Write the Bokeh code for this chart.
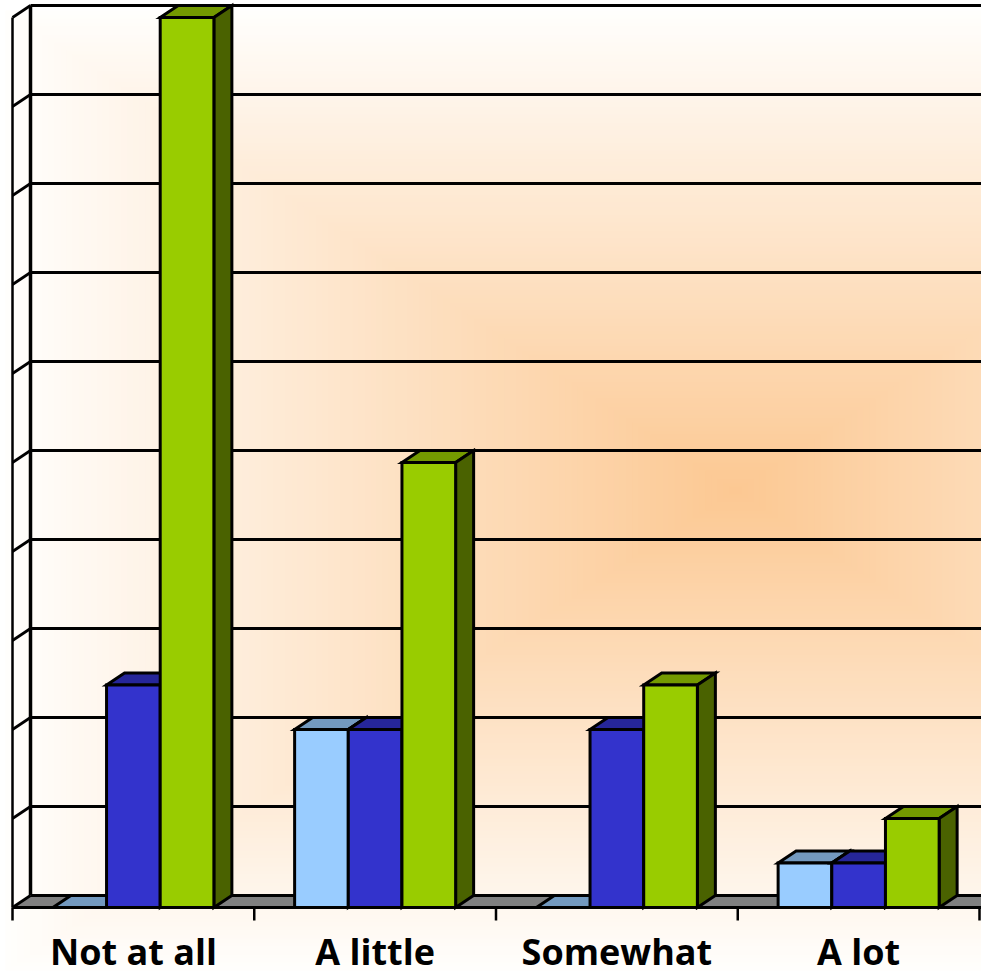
import numpy as np
from bokeh.plotting import figure
from bokeh.models import Range1d, ColumnDataSource
from bokeh.core.properties import value
from bokeh.embed import file_html
from bokeh.resources import INLINE

# ---------------- data ----------------
categories = ["Not at all", "A little", "Somewhat", "A lot"]
series_light_blue = [0, 2, 0, 0.5]
series_blue = [2.5, 2, 2, 0.5]
series_green = [10, 5, 2.5, 1]
y_grid_values = list(range(0, 11))

# ---------------- style ----------------
front_colors = ["#99CCFF", "#3333CC", "#99CC00"]
top_colors = ["#7399BF", "#262699", "#749A00"]
side_colors = ["#4D6680", "#1A1A66", "#4A6200"]

W_PX, H_PX = 981, 977
PX_X = 241.75          # pixels per category
PX_Y = 89.0            # pixels per value unit
X0_PX = 12             # pixel of x=0 from left of figure
Y0_PX = 70             # pixel of y=0 from bottom of figure
DX = 18 / PX_X         # depth offset (data units)
DY = 12 / PX_Y
BAR_W = 0.222
BAR_OFF = 0.5 - 1.5 * BAR_W

x_start = -X0_PX / PX_X
x_end = (W_PX - X0_PX) / PX_X
y_start = -Y0_PX / PX_Y
y_end = (H_PX - Y0_PX) / PX_Y

p = figure(width=W_PX, height=H_PX, output_backend="svg", toolbar_location=None,
           x_range=Range1d(x_start, x_end), y_range=Range1d(y_start, y_end),
           x_axis_location=None, y_axis_location=None, min_border=0,
           background_fill_color="#FFFFFF", border_fill_color="#FFFFFF")
p.outline_line_color = None
p.xgrid.visible = False
p.ygrid.visible = False

# ---------------- background: rectangular "from centre" gradient ----------------
cx = (735 - 12) / PX_X
cy = (907 - 490) / PX_Y
rx = 730 / PX_X
ry = 480 / PX_Y
peak = np.array([252, 200, 146])
white = np.array([255, 254, 252])
N = 120
gl, gr, gb, gt, gc = [], [], [], [], []
for k in range(N):
    t = 1 - k / N
    col = white + (peak - white) * (1 - t)
    gl.append(cx - t * rx); gr.append(cx + t * rx)
    gb.append(cy - t * ry); gt.append(cy + t * ry)
    gc.append("#%02x%02x%02x" % tuple(int(round(c)) for c in col))
p.quad(left=gl, right=gr, bottom=gb, top=gt, fill_color=gc, line_color=None)

XR = x_end + 1

# ---------------- floor ----------------
p.patch([0, XR, XR + DX, DX], [0, 0, DY, DY], fill_color="#808080", line_color=None)

# ---------------- walls / grid ----------------
p.segment(x0=[DX] * len(y_grid_values), y0=[v + DY for v in y_grid_values],
          x1=[XR] * len(y_grid_values), y1=[v + DY for v in y_grid_values],
          line_color="black", line_width=3.2)
p.segment(x0=[0] * len(y_grid_values), y0=y_grid_values,
          x1=[DX] * len(y_grid_values), y1=[v + DY for v in y_grid_values],
          line_color="black", line_width=2.8)
top_v = max(y_grid_values)
p.segment(x0=[0], y0=[0], x1=[0], y1=[top_v], line_color="black", line_width=2.5)
p.segment(x0=[DX], y0=[DY], x1=[DX], y1=[top_v + DY], line_color="black", line_width=3.5)
p.segment(x0=[0], y0=[0], x1=[XR], y1=[0], line_color="black", line_width=3.2)

# ---------------- bars (3-D) ----------------
series = [series_light_blue, series_blue, series_green]
xs, ys, fills = [], [], []
for c in range(len(categories)):
    for j, vals in enumerate(series):
        h = vals[c]
        x0 = c + BAR_OFF + j * BAR_W
        x1 = x0 + BAR_W
        # top face
        xs.append([x0, x1, x1 + DX, x0 + DX]); ys.append([h, h, h + DY, h + DY]); fills.append(top_colors[j])
        if h > 0:
            # side face
            xs.append([x1, x1 + DX, x1 + DX, x1]); ys.append([0, DY, h + DY, h]); fills.append(side_colors[j])
            # front face
            xs.append([x0, x1, x1, x0]); ys.append([0, 0, h, h]); fills.append(front_colors[j])
src = ColumnDataSource(dict(xs=xs, ys=ys, fill=fills))
p.patches("xs", "ys", source=src, fill_color="fill", line_color="black",
          line_width=3, line_join="miter")

# ---------------- category ticks and labels ----------------
bounds = list(range(len(categories) + 1))
p.segment(x0=bounds, y0=[0] * len(bounds), x1=bounds, y1=[-13 / PX_Y] * len(bounds),
          line_color="black", line_width=2.5)
centers = [i + 0.5 for i in range(len(categories))]
p.text(x=centers, y=[(907 - 951) / PX_Y] * len(categories), text=categories,
       text_align="center", text_baseline="alphabetic",
       text_font=value("Open Sans"), text_font_style="bold",
       text_font_size="36px", text_color="black")

open("out.html", "w").write(file_html(p, INLINE))
